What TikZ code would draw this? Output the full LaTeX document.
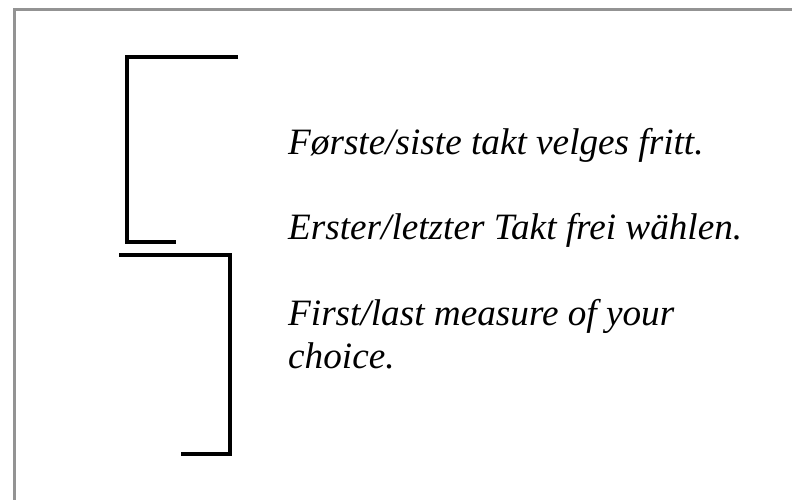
\documentclass[tikz,border=0pt]{standalone}
\usepackage{fontspec}
\setmainfont{Liberation Serif}
\usepackage{xcolor}
\usepackage{tikz}
\usetikzlibrary{positioning}

\begin{document}
\begin{tikzpicture}[
  x=1bp, y=-1bp,
  frame/.style={
    draw=gray!85, 
    line width=3bp
  },
  bracket/.style={
    draw=black, 
    line width=3.2bp,
    line join=miter
  },
  remark/.style={
    anchor=base west, 
    inner sep=0pt, 
    align=left,
    font=\fontsize{37.2bp}{43bp}\selectfont\itshape
  }
]
\useasboundingbox (0,0) rectangle (792,500);

% Outer frame, cut off at right and bottom
\draw[frame] (14,500) -- (14,10) -- (792,10);

% Repeat brackets
\draw[bracket] (238,57) -- (127,57) -- (127,242) -- (176,242);
\draw[bracket] (119,255) -- (230,255) -- (230,454) -- (181,454);

% Remarks in three languages (base of a two-line node is its last line)
\node[remark] (nordic) at (288,155) {Første/siste takt velges fritt.};
\node[remark] (german) at (288,240) {Erster/letzter Takt frei wählen.};
\node[remark] (english) at (288,368) {First/last measure of your\\choice.};
\end{tikzpicture}
\end{document}
